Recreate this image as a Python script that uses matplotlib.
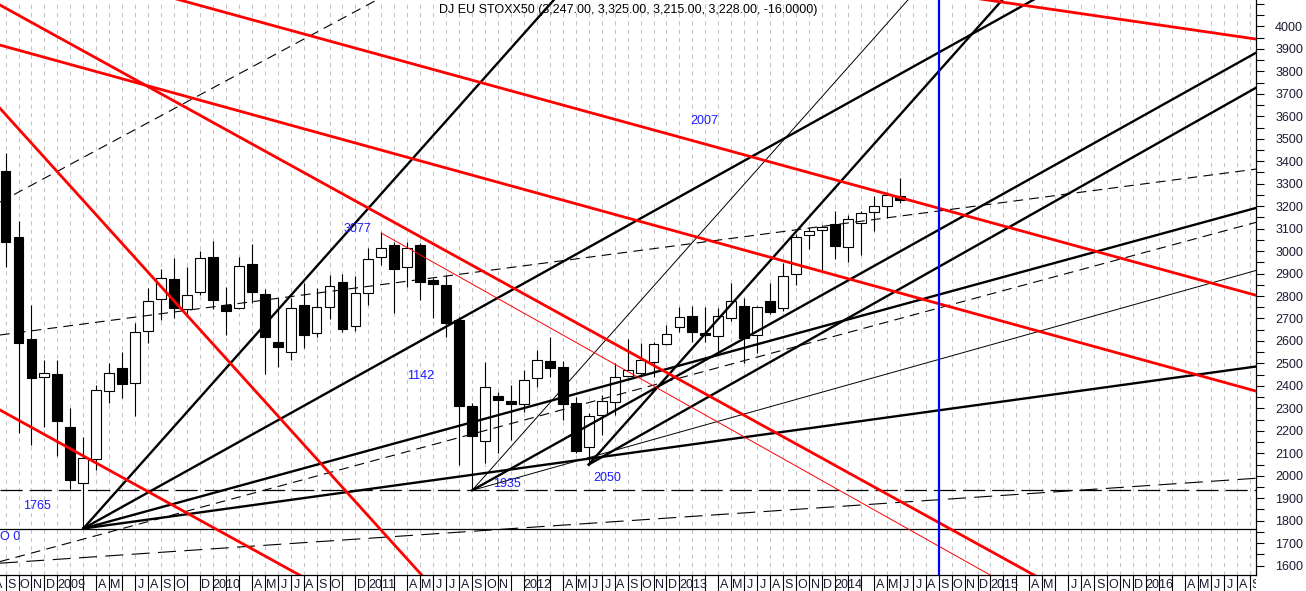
import numpy as np
import matplotlib
matplotlib.use("Agg")
import matplotlib.pyplot as plt
from matplotlib.transforms import Bbox, TransformedBbox

plt.rcParams['font.family'] = ['Liberation Sans', 'DejaVu Sans']
plt.rcParams['lines.scale_dashes'] = False

# Monthly candles, Sep 2008 .. Jun 2014 (index 0 = Sep 2008)
opens = [3356, 3061, 2607, 2438,
         2453, 2218, 1966, 2073, 2379, 2480, 2411, 2644, 2785, 2874, 2741, 2819,
         2972, 2758, 2745, 2942, 2809, 2595, 2552, 2760, 2634, 2750, 2864, 2668,
         2812, 2972, 3027, 2928, 3027, 2871, 2849, 2693, 2312, 2155, 2355, 2333,
         2319, 2434, 2511, 2483, 2325, 2127, 2270, 2330, 2444, 2456, 2505, 2585,
         2663, 2711, 2634, 2623, 2703, 2757, 2626, 2778, 2745, 2897, 3071, 3094,
         3120, 3017, 3126, 3172, 3200, 3247]
highs = [3435, 3134, 2760, 2515,
         2515, 2300, 2171, 2404, 2500, 2549, 2678, 2837, 2919, 2968, 2930, 3002,
         3046, 2841, 2972, 3031, 2830, 2790, 2790, 2856, 2834, 2893, 2898, 2889,
         3012, 3083, 3042, 3042, 3035, 2879, 2893, 2705, 2323, 2508, 2374, 2404,
         2471, 2560, 2616, 2512, 2352, 2280, 2359, 2500, 2607, 2589, 2597, 2671,
         2752, 2757, 2752, 2745, 2856, 2790, 2757, 2856, 2948, 3075, 3108, 3115,
         3178, 3160, 3180, 3245, 3262, 3325]
lows = [2930, 2189, 2137, 2218,
        2088, 1940, 1765, 2026, 2325, 2347, 2266, 2592, 2693, 2700, 2708, 2804,
        2741, 2626, 2740, 2767, 2453, 2486, 2515, 2567, 2619, 2696, 2641, 2644,
        2760, 2938, 2723, 2841, 2782, 2701, 2619, 2050, 1935, 2058, 2101, 2159,
        2285, 2396, 2441, 2248, 2100, 2050, 2181, 2270, 2441, 2440, 2441, 2580,
        2640, 2597, 2597, 2552, 2690, 2503, 2545, 2720, 2735, 2849, 3008, 2916,
        2965, 2953, 2982, 3091, 3146, 3215]
closes = [3042, 2592, 2436, 2456,
          2245, 1981, 2078, 2382, 2456, 2407, 2641, 2776, 2879, 2748, 2803, 2968,
          2782, 2735, 2935, 2819, 2619, 2574, 2745, 2626, 2750, 2846, 2653, 2812,
          2963, 3015, 2920, 3012, 2864, 2852, 2681, 2310, 2177, 2394, 2337, 2319,
          2426, 2514, 2481, 2318, 2112, 2266, 2333, 2441, 2471, 2515, 2585, 2630,
          2705, 2641, 2628, 2712, 2779, 2612, 2752, 2730, 2890, 3064, 3089, 3106,
          3024, 3141, 3168, 3200, 3249, 3228]

# Fan lines from the lows: (month index, price, points per month)
fan_thick = [(6, 1765, 64.8), (6, 1765, 32.1), (6, 1765, 15.77), (6, 1765, 7.97),
             (36, 1935, 32.2), (45, 2050, 64.8), (45, 2050, 32.57)]
fan_thin = [(36, 1935, 64.9), (36, 1935, 16.18)]
# Red down trend lines across the chart: (month index, price, points per month)
red_lines = [(0, 3910, -15.89), (20, 4014, -15.83), (0, 4081.5, -31.8),
             (0, 2279, -31.79), (0, 3608, -63.84), (80, 4082, -8.39)]
red_ray = (29, 3080, -32.4)
dashed_lines = [(0, 2629.7, 7.62), (0, 3231.3, 30.94), (0, 1624.5, 15.58)]
long_dashed_lines = [(0, 1612.4, 3.9)]
level_solid = 1765
level_dashed = 1938
marker_month = 72  # Sep 2014

notes = [("2007", 53.9, 3579), ("3077", 27.12, 3098), ("1142", 32.0, 2444),
         ("1765", 2.43, 1865), ("1935", 38.69, 1963), ("2050", 46.41, 1990)]

title = "DJ EU STOXX50 (3,247.00, 3,325.00, 3,215.00, 3,228.00, -16.0000)"
hidden_labels = ["2009-02", "2009-03", "2009-06", "2009-11", "2010-02", "2010-03",
                 "2010-11", "2011-02", "2011-03", "2011-12", "2012-02", "2012-03",
                 "2013-02", "2013-03", "2014-02", "2014-03", "2015-02", "2015-03",
                 "2015-06", "2016-02", "2016-03"]
letters = "JFMAMJJASOND"

XL, XR = -0.4275, 96.488
YB, YT = 1558.2, 4117.5

fig = plt.figure(figsize=(13.06, 5.91), dpi=100)
ax = fig.add_axes([0, 16 / 591, 1256 / 1306, 575 / 591])
ax.set_xlim(XL, XR)
ax.set_ylim(YB, YT)

# month grid
for k in range(0, 97):
    ax.axvline(k, color='#c4c4c4', lw=0.75, ls=(0, (3, 3)), zorder=0)

# candles
o = np.array(opens); h = np.array(highs); l = np.array(lows); c = np.array(closes)
x = np.arange(len(o))
up = c >= o
ax.vlines(x, l, h, color='black', lw=0.8, zorder=3)
body_lo = np.minimum(o, c)
body_h = np.maximum(np.abs(c - o), 4)
ax.bar(x, body_h, bottom=body_lo, width=0.76,
       color=np.where(up, 'white', 'black'), edgecolor='black', linewidth=0.8, zorder=4)


def ray(x0, y0, rate, **kw):
    ax.plot([x0, XR], [y0, y0 + rate * (XR - x0)], **kw)


def full(x0, y0, rate, **kw):
    ax.plot([XL, XR], [y0 + rate * (XL - x0), y0 + rate * (XR - x0)], **kw)


for x0, y0, r in fan_thick:
    ray(x0, y0, r, color='black', lw=1.7, zorder=5)
for x0, y0, r in fan_thin:
    ray(x0, y0, r, color='black', lw=0.7, zorder=5)
for x0, y0, r in dashed_lines:
    full(x0, y0, r, color='black', lw=0.8, ls=(0, (7, 4.5)), zorder=5)
for x0, y0, r in long_dashed_lines:
    full(x0, y0, r, color='black', lw=0.8, ls=(0, (13, 6)), zorder=5)
ax.axhline(level_solid, color='black', lw=0.9, zorder=5)
ax.axhline(level_dashed, color='black', lw=0.9, ls=(0, (16, 5)), zorder=5)
for x0, y0, r in red_lines:
    full(x0, y0, r, color='#ff0000', lw=2.0, zorder=6)
ray(*red_ray, color='#ff0000', lw=0.7, zorder=6)
ax.axvline(marker_month, color='#0000ff', lw=1.6, zorder=6)

for txt, xi, yp in notes:
    ax.text(xi, yp, txt, color='#1a1aff', fontsize=9, ha='center', va='center', zorder=7)
ax.text(XL, 1727, "O 0", color='#1a1aff', fontsize=9, ha='left', va='center', zorder=7)

fig.text(628 / 1306, 1 - 10 / 591, title, ha='center', va='center', fontsize=9)

# axes styling
for s in ['top', 'left']:
    ax.spines[s].set_visible(False)
ax.spines['right'].set_linewidth(0.9)
ax.spines['bottom'].set_linewidth(0.9)
ax.yaxis.tick_right()
ax.set_yticks(range(1600, 4001, 100))
ax.set_yticks(range(1600, 4101, 50), minor=True)
ax.tick_params(axis='y', which='both', direction='out', length=5.8, width=0.8,
               pad=8, labelsize=9, labelcolor='#1a1a33')
ax.set_xticks(range(0, 97))
ax.tick_params(axis='x', which='major', direction='out', length=11.5, width=0.8,
               labelbottom=False)

clipbox = TransformedBbox(Bbox([[0, 0], [1256 / 1306, 1]]), fig.transFigure)
for k in range(-1, 97):
    mon = (8 + k) % 12
    year = 2008 + (8 + k) // 12
    if f"{year}-{mon + 1:02d}" in hidden_labels:
        continue
    if mon == 0:
        txt, xpos = str(year), k + 1.05
    else:
        txt, xpos = letters[mon], k + 0.46
    t = ax.text(xpos, -10 / 575, txt, transform=ax.get_xaxis_transform(),
                ha='center', va='center', fontsize=9, color='#1a1a33')
    t.set_clip_box(clipbox)
    t.set_clip_on(True)

fig.savefig("out.png", dpi=100)
